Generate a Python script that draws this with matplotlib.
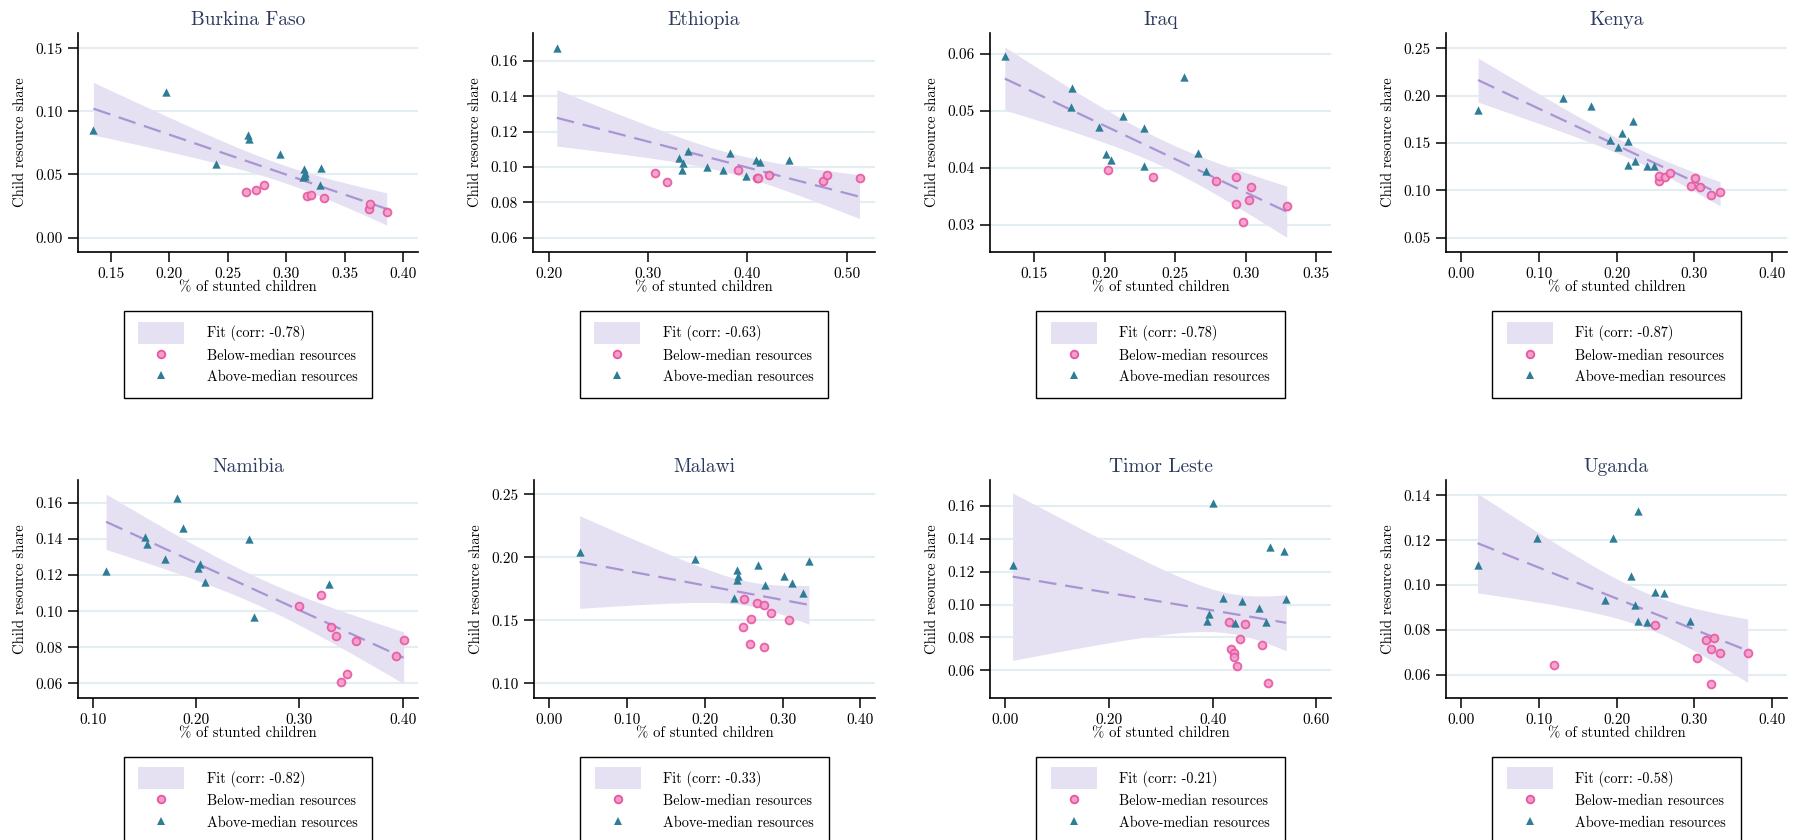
import matplotlib
matplotlib.use("Agg")
import matplotlib.pyplot as plt
import numpy as np
from matplotlib.legend_handler import HandlerPatch
from matplotlib.lines import Line2D
from matplotlib.patches import Patch, Rectangle
from matplotlib.ticker import FormatStrFormatter

plt.rcParams["font.family"] = ["cmr10", "DejaVu Serif"]
plt.rcParams["mathtext.fontset"] = "cm"
plt.rcParams["axes.formatter.use_mathtext"] = True

# --- data (x = % stunted, y = child resource share) ---
burkina_above_x = [0.135, 0.197, 0.240, 0.267, 0.268, 0.295, 0.315, 0.316, 0.314, 0.316, 0.329, 0.330]
burkina_above_y = [0.085, 0.115, 0.058, 0.081, 0.078, 0.066, 0.054, 0.051, 0.048, 0.049, 0.042, 0.055]
burkina_below_x = [0.266, 0.274, 0.281, 0.318, 0.321, 0.332, 0.371, 0.372, 0.386]
burkina_below_y = [0.036, 0.038, 0.042, 0.033, 0.034, 0.031, 0.023, 0.027, 0.020]

ethiopia_above_x = [0.208, 0.331, 0.335, 0.340, 0.334, 0.359, 0.375, 0.383, 0.399, 0.409, 0.413, 0.442]
ethiopia_above_y = [0.167, 0.105, 0.102, 0.109, 0.098, 0.100, 0.098, 0.108, 0.095, 0.104, 0.103, 0.104]
ethiopia_below_x = [0.307, 0.319, 0.391, 0.410, 0.411, 0.422, 0.476, 0.480, 0.513]
ethiopia_below_y = [0.0965, 0.0914, 0.0982, 0.0936, 0.0936, 0.0955, 0.0921, 0.0955, 0.094]

iraq_above_x = [0.129, 0.1765, 0.176, 0.196, 0.213, 0.201, 0.204, 0.228, 0.228, 0.256, 0.266, 0.272]
iraq_above_y = [0.0595, 0.054, 0.0506, 0.0471, 0.049, 0.0423, 0.0414, 0.0469, 0.0403, 0.0558, 0.0425, 0.0394]
iraq_below_x = [0.2025, 0.234, 0.279, 0.293, 0.293, 0.302, 0.304, 0.298, 0.329]
iraq_below_y = [0.0395, 0.0384, 0.0377, 0.0384, 0.0336, 0.0344, 0.0366, 0.0304, 0.0332]

kenya_above_x = [0.022, 0.131, 0.167, 0.192, 0.202, 0.207, 0.214, 0.221, 0.214, 0.224, 0.239, 0.248]
kenya_above_y = [0.185, 0.197, 0.189, 0.153, 0.146, 0.160, 0.152, 0.173, 0.127, 0.131, 0.126, 0.126]
kenya_below_x = [0.254, 0.255, 0.262, 0.269, 0.296, 0.301, 0.307, 0.321, 0.333]
kenya_below_y = [0.110, 0.115, 0.114, 0.118, 0.105, 0.113, 0.103, 0.095, 0.098]

namibia_above_x = [0.113, 0.151, 0.153, 0.170, 0.182, 0.187, 0.204, 0.202, 0.209, 0.251, 0.256, 0.329]
namibia_above_y = [0.122, 0.141, 0.137, 0.129, 0.163, 0.146, 0.126, 0.124, 0.116, 0.140, 0.097, 0.115]
namibia_below_x = [0.300, 0.321, 0.331, 0.336, 0.355, 0.340, 0.346, 0.394, 0.401]
namibia_below_y = [0.103, 0.109, 0.0915, 0.086, 0.0835, 0.0607, 0.0652, 0.075, 0.084]

malawi_above_x = [0.039, 0.187, 0.242, 0.243, 0.241, 0.238, 0.269, 0.277, 0.302, 0.312, 0.327, 0.334]
malawi_above_y = [0.204, 0.199, 0.190, 0.185, 0.182, 0.168, 0.194, 0.178, 0.185, 0.180, 0.172, 0.197]
malawi_below_x = [0.251, 0.267, 0.276, 0.285, 0.249, 0.260, 0.308, 0.258, 0.276]
malawi_below_y = [0.167, 0.164, 0.162, 0.156, 0.145, 0.151, 0.150, 0.131, 0.129]

timor_above_x = [0.014, 0.401, 0.393, 0.389, 0.420, 0.444, 0.456, 0.489, 0.504, 0.511, 0.537, 0.542]
timor_above_y = [0.124, 0.162, 0.0945, 0.090, 0.104, 0.089, 0.102, 0.098, 0.0896, 0.135, 0.1325, 0.1034]
timor_below_x = [0.432, 0.462, 0.453, 0.435, 0.441, 0.441, 0.448, 0.495, 0.507]
timor_below_y = [0.0892, 0.0884, 0.0791, 0.073, 0.0708, 0.0679, 0.0624, 0.0754, 0.0521]

uganda_above_x = [0.021, 0.098, 0.196, 0.228, 0.218, 0.185, 0.224, 0.228, 0.239, 0.250, 0.261, 0.294]
uganda_above_y = [0.109, 0.121, 0.121, 0.133, 0.104, 0.0935, 0.0913, 0.0841, 0.0835, 0.0968, 0.0964, 0.0838]
uganda_below_x = [0.250, 0.119, 0.304, 0.315, 0.326, 0.322, 0.333, 0.322, 0.369]
uganda_below_y = [0.0824, 0.0642, 0.0676, 0.0756, 0.0762, 0.0713, 0.0698, 0.056, 0.0695]

countries = ["Burkina Faso", "Ethiopia", "Iraq", "Kenya",
             "Namibia", "Malawi", "Timor Leste", "Uganda"]
corr_labels = ["-0.78", "-0.63", "-0.78", "-0.87", "-0.82", "-0.33", "-0.21", "-0.58"]
above_x = [burkina_above_x, ethiopia_above_x, iraq_above_x, kenya_above_x,
           namibia_above_x, malawi_above_x, timor_above_x, uganda_above_x]
above_y = [burkina_above_y, ethiopia_above_y, iraq_above_y, kenya_above_y,
           namibia_above_y, malawi_above_y, timor_above_y, uganda_above_y]
below_x = [burkina_below_x, ethiopia_below_x, iraq_below_x, kenya_below_x,
           namibia_below_x, malawi_below_x, timor_below_x, uganda_below_x]
below_y = [burkina_below_y, ethiopia_below_y, iraq_below_y, kenya_below_y,
           namibia_below_y, malawi_below_y, timor_below_y, uganda_below_y]

x_ticks = [[0.15, 0.20, 0.25, 0.30, 0.35, 0.40], [0.2, 0.3, 0.4, 0.5],
           [0.15, 0.20, 0.25, 0.30, 0.35], [0.0, 0.1, 0.2, 0.3, 0.4],
           [0.1, 0.2, 0.3, 0.4], [0.0, 0.1, 0.2, 0.3, 0.4],
           [0.0, 0.2, 0.4, 0.6], [0.0, 0.1, 0.2, 0.3, 0.4]]
y_ticks = [[0.00, 0.05, 0.10, 0.15], [0.06, 0.08, 0.10, 0.12, 0.14, 0.16],
           [0.03, 0.04, 0.05, 0.06], [0.05, 0.10, 0.15, 0.20, 0.25],
           [0.06, 0.08, 0.10, 0.12, 0.14, 0.16], [0.10, 0.15, 0.20, 0.25],
           [0.06, 0.08, 0.10, 0.12, 0.14, 0.16], [0.06, 0.08, 0.10, 0.12, 0.14]]
x_lims = [(0.1218, 0.4128), (0.184, 0.5286), (0.1185, 0.3604), (-0.0193, 0.419),
          (0.0858, 0.4149), (-0.0197, 0.419), (-0.0296, 0.6285), (-0.0197, 0.4196)]
y_lims = [(-0.0114, 0.162), (0.0519, 0.1757), (0.0252, 0.0636), (0.0348, 0.266),
          (0.0519, 0.1727), (0.0883, 0.2614), (0.0432, 0.1757), (0.0496, 0.1469)]

# colours
PINK_FACE = "#f49ccb"
PINK_EDGE = "#e8569f"
TEAL = "#2e7d96"
BAND = "#e6e1f2"
LINE = "#a994d4"
GRID = "#e4eef2"
TITLE = "#2c3a5e"

W, H = 1795, 840
fig = plt.figure(figsize=(W / 100, H / 100), dpi=100)
fig.patch.set_facecolor("white")

lefts = [[78, 533, 990, 1446], [78, 534, 990, 1446]]
rights = [[418, 875, 1331, 1787], [418, 875, 1331, 1787]]
tops = [33, 480]
bottoms = [252, 698]

T_CRIT = 2.093  # 95%, df = 19


def tall_patch(legend, orig_handle, xdescent, ydescent, width, height, fontsize):
    # legend swatch for the band is a bit taller than the text row
    return Rectangle((-xdescent, -ydescent - 0.3 * height), width, height * 1.6)


for i, name in enumerate(countries):
    r, c = divmod(i, 4)
    l, rr = lefts[r][c], rights[r][c]
    ax = fig.add_axes([l / W, (H - bottoms[r]) / H, (rr - l) / W, (bottoms[r] - tops[r]) / H])

    xa, ya = np.array(above_x[i]), np.array(above_y[i])
    xb, yb = np.array(below_x[i]), np.array(below_y[i])
    xs = np.concatenate([xa, xb])
    ys = np.concatenate([ya, yb])

    # OLS fit with 95% confidence band
    n = len(xs)
    b1, b0 = np.polyfit(xs, ys, 1)
    resid = ys - (b0 + b1 * xs)
    s = np.sqrt(np.sum(resid ** 2) / (n - 2))
    grid_x = np.linspace(xs.min(), xs.max(), 100)
    fit = b0 + b1 * grid_x
    se = s * np.sqrt(1 / n + (grid_x - xs.mean()) ** 2 / np.sum((xs - xs.mean()) ** 2))

    for yt in y_ticks[i]:
        ax.axhline(yt, color=GRID, lw=1.6, zorder=0)

    ax.fill_between(grid_x, fit - T_CRIT * se, fit + T_CRIT * se, color=BAND, lw=0, zorder=1)
    ax.plot(grid_x, fit, color=LINE, lw=1.6, dashes=(8, 4), zorder=2)

    ax.scatter(xb, yb, s=32, marker="o", facecolor=PINK_FACE, edgecolor=PINK_EDGE,
               linewidth=1.3, alpha=0.9, zorder=3)
    ax.scatter(xa, ya, s=36, marker="^", color=TEAL, linewidth=0, zorder=3)

    ax.set_xlim(*x_lims[i])
    ax.set_ylim(*y_lims[i])
    ax.set_xticks(x_ticks[i])
    ax.set_yticks(y_ticks[i])
    ax.xaxis.set_major_formatter(FormatStrFormatter("%.2f"))
    ax.yaxis.set_major_formatter(FormatStrFormatter("%.2f"))
    ax.tick_params(length=7, width=1.1, labelsize=11, pad=4, color="black")

    for side in ["top", "right"]:
        ax.spines[side].set_visible(False)
    for side in ["left", "bottom"]:
        ax.spines[side].set_linewidth(1.2)

    ax.set_title(name, fontsize=14, color=TITLE, pad=6)
    ax.set_xlabel("% of stunted children", fontsize=10.5, labelpad=0)
    ax.set_ylabel("Child resource share", fontsize=10.5, labelpad=6)

    handles = [Patch(facecolor=BAND, edgecolor="none"),
               Line2D([], [], ls="none", marker="o", ms=5.5, mfc=PINK_FACE, mec=PINK_EDGE, mew=1.3),
               Line2D([], [], ls="none", marker="^", ms=6, mfc=TEAL, mec=TEAL, mew=0)]
    labels = ["Fit (corr: %s)" % corr_labels[i], "Below-median resources", "Above-median resources"]
    leg = ax.legend(handles, labels, loc="upper center", bbox_to_anchor=(0.5, -0.27),
                    borderaxespad=0, fontsize=10.3, frameon=True, fancybox=False,
                    edgecolor="black", framealpha=1, handlelength=3.2, handleheight=1.1,
                    handletextpad=1.6, borderpad=1.0, labelspacing=0.45,
                    handler_map={Patch: HandlerPatch(patch_func=tall_patch)})
    leg.get_frame().set_linewidth(1.0)

fig.savefig("out.png", dpi=100)
